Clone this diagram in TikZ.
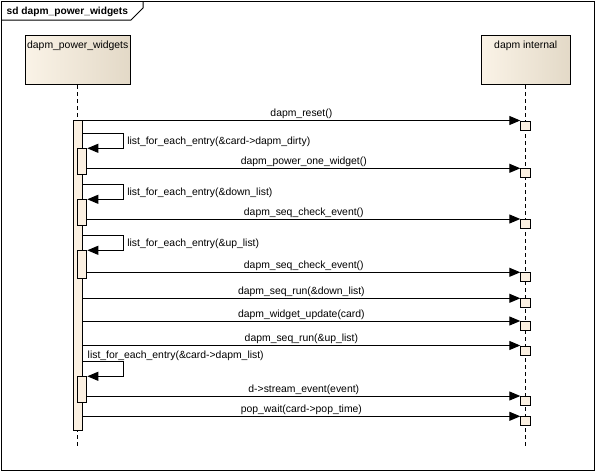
\documentclass[tikz,border=0pt]{standalone}
\usepackage{fontspec}
\setmainfont{Liberation Sans}
\usetikzlibrary{arrows.meta,calc}
\definecolor{headL}{HTML}{FAF3E7}
\definecolor{headM}{HTML}{F5ECDD}
\definecolor{headR}{HTML}{E3D9C7}
\definecolor{barfill}{HTML}{FBF0E1}
\begin{document}
\begin{tikzpicture}[x=1pt,y=-1pt,
  font=\fontsize{10.4}{12}\selectfont,
  every node/.style={inner sep=0pt},
  head/.style={draw, line width=1pt, left color=headL, middle color=headM, right color=headR, shading angle=90},
  life/.style={line width=0.9pt, dash pattern=on 4pt off 3pt},
  bar/.style={draw, line width=1pt, fill=barfill, minimum width=9pt},
  rbox/.style={draw, line width=1pt, fill=barfill, minimum width=9.5pt, minimum height=9pt, anchor=north west},
  msg/.style={line width=1pt, -{Triangle[length=11pt,width=9pt]}},
  lbl/.style={anchor=base, yshift=4pt},
  slbl/.style={anchor=base west, xshift=3.5pt, yshift=3.5pt}]
\useasboundingbox (0,0) rectangle (595,471);
% frame
\draw[line width=1pt] (1,1) rectangle (594,470);
\draw[line width=1pt] (1,20) -- (131,20) -- (143,8) -- (143,1);
\node[anchor=base west, font=\fontsize{10.2}{12}\selectfont\bfseries] (title) at (6.5,15) {sd dapm\_power\_widgets};
% heads
\node[head, minimum width=104.5pt, minimum height=49pt, anchor=north west] (h1) at (25,35) {};
\node[anchor=base] (t1) at (h1.north |- 0,48.5) {dapm\_power\_widgets};
\node[head, minimum width=89.5pt, minimum height=49pt, anchor=north west] (h2) at (480.5,35) {};
\node[anchor=base] (t2) at (h2.north |- 0,48.5) {dapm internal};
% lifelines
\coordinate (e1) at (h1.south |- 0,446);
\coordinate (e2) at (h2.south |- 0,446);
\draw[life] (h1.south) -- (e1);
\draw[life] (h2.south) -- (e2);
% activation bars
\node[bar, minimum height=310pt, anchor=north west] (A) at (72.5,120) {};
\node[bar, minimum height=26pt, anchor=north west] (b1) at (77.3,148.3) {};
\node[bar, minimum height=26pt, anchor=north west] (b2) at (77.3,199.3) {};
\node[bar, minimum height=28pt, anchor=north west] (b3) at (77.3,250.3) {};
\node[bar, minimum height=26pt, anchor=north west] (b4) at (77.3,376.3) {};
% target boxes
\node[rbox] (r1) at (520.3,120.5) {};
\node[rbox] (r2) at (520.3,168.3) {};
\node[rbox] (r3) at (520.3,219.0) {};
\node[rbox] (r4) at (520.3,272.3) {};
\node[rbox] (r5) at (520.3,298.3) {};
\node[rbox] (r6) at (520.3,321.0) {};
\node[rbox] (r7) at (520.3,345.5) {};
\node[rbox] (r8) at (520.3,396.0) {};
\node[rbox] (r9) at (520.3,416.3) {};
% messages
\draw[msg] (A.east |- r1.north west) -- (r1.north west) node[lbl, midway] {dapm\_reset()};
\draw[msg] ($(A.east |- b1.north)+(0,-15)$) -| ($(b1.north east)+(36,0)$) node[slbl] {list\_for\_each\_entry(\&card->dapm\_dirty)} -- (b1.north east);
\draw[msg] (b1.east |- r2.north west) -- (r2.north west) node[lbl, midway] {dapm\_power\_one\_widget()};
\draw[msg] ($(A.east |- b2.north)+(0,-15)$) -| ($(b2.north east)+(36,0)$) node[slbl] {list\_for\_each\_entry(\&down\_list)} -- (b2.north east);
\draw[msg] (b2.east |- r3.north west) -- (r3.north west) node[lbl, midway] {dapm\_seq\_check\_event()};
\draw[msg] ($(A.east |- b3.north)+(0,-15)$) -| ($(b3.north east)+(36,0)$) node[slbl] {list\_for\_each\_entry(\&up\_list)} -- (b3.north east);
\draw[msg] (b3.east |- r4.north west) -- (r4.north west) node[lbl, midway] {dapm\_seq\_check\_event()};
\draw[msg] (A.east |- r5.north west) -- (r5.north west) node[lbl, midway] {dapm\_seq\_run(\&down\_list)};
\draw[msg] (A.east |- r6.north west) -- (r6.north west) node[lbl, midway] {dapm\_widget\_update(card)};
\draw[msg] (A.east |- r7.north west) -- (r7.north west) node[lbl, midway] {dapm\_seq\_run(\&up\_list)};
\draw[msg] ($(A.east |- b4.north)+(0,-15)$) node[anchor=base west, xshift=4.7pt, yshift=3.3pt] {list\_for\_each\_entry(\&card->dapm\_list)} -| ($(b4.north east)+(36,0)$) -- (b4.north east);
\draw[msg] (b4.east |- r8.north west) -- (r8.north west) node[lbl, midway] {d->stream\_event(event)};
\draw[msg] (A.east |- r9.north west) -- (r9.north west) node[lbl, midway] {pop\_wait(card->pop\_time)};
\end{tikzpicture}
\end{document}
